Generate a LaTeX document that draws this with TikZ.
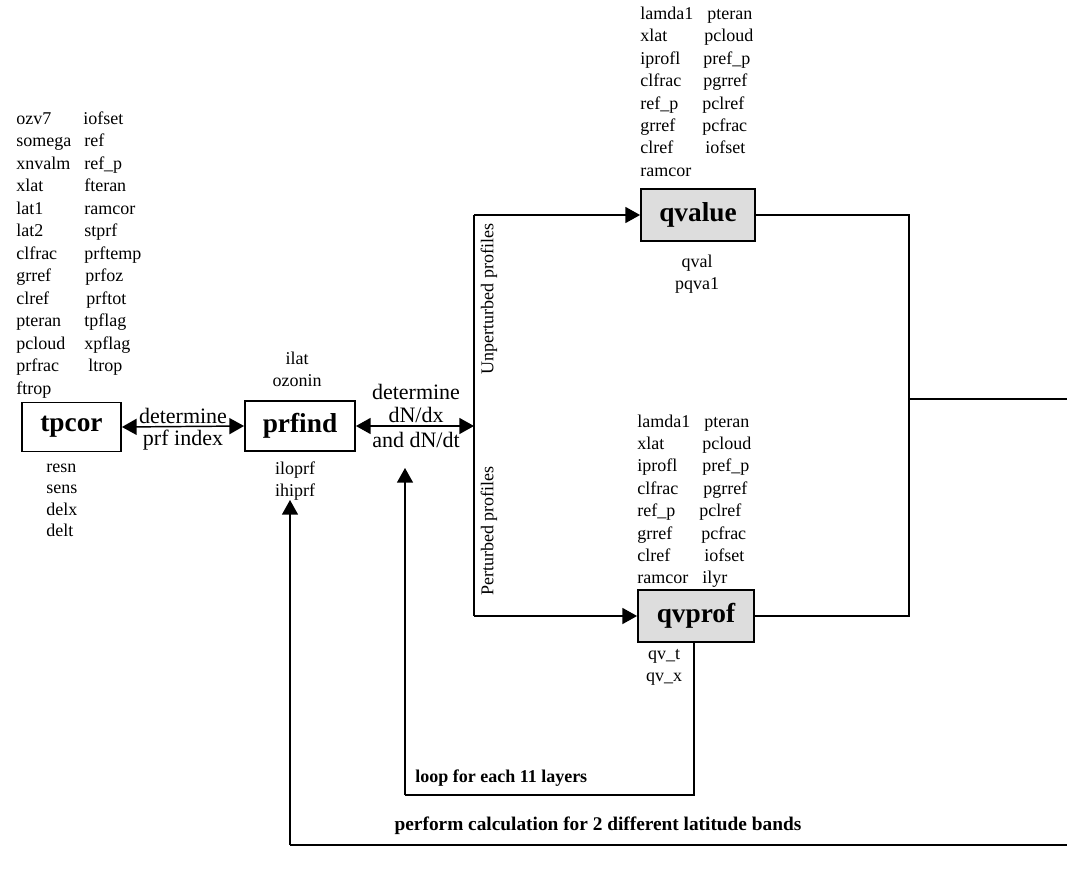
\documentclass[tikz,border=0pt]{standalone}
\usepackage{fontspec}
\setmainfont{Liberation Serif}
\usetikzlibrary{arrows.meta}
\newdimen\pxu \pxu=0.75pt
\definecolor{boxgray}{HTML}{DDDDDD}
\begin{document}
\begin{tikzpicture}[x=0.75pt,y=-0.75pt,
  lbl/.style={font=\fontsize{13.5}{16}\selectfont,inner sep=0pt,anchor=base west},
  lblc/.style={font=\fontsize{13.5}{16}\selectfont,inner sep=0pt,anchor=base},
  midtxt/.style={font=\fontsize{16.5}{19}\selectfont,inner sep=0pt},
  note/.style={font=\bfseries\fontsize{13.5}{16}\selectfont,inner sep=0pt},
  box/.style={draw,line width=1.4pt,font=\bfseries\fontsize{20.5}{24}\selectfont,inner sep=0pt},
  gbox/.style={box,fill=boxgray},
  conn/.style={line width=1.1pt},
  tip/.style={-{Triangle[length=11pt,width=12pt]}},
  dtip/.style={{Triangle[length=11pt,width=12pt]}-{Triangle[length=11pt,width=12pt]}}
]
\useasboundingbox (0,0) rectangle (1067,874);

% ---- boxes
\node[box,minimum width=99\pxu,minimum height=49\pxu] (tpcor) at (71.5,427) {tpcor};
\node[box,minimum width=110\pxu,minimum height=50\pxu] (prfind) at (300,426) {prfind};
\node[gbox,minimum width=114\pxu,minimum height=52\pxu] (qvalue) at (698,215) {qvalue};
\node[gbox,minimum width=116\pxu,minimum height=52\pxu] (qvprof) at (696,616) {qvprof};

% ---- tpcor inputs
\foreach \a/\b/\xb [count=\i] in {ozv7/iofset/83, somega/ref/84, xnvalm/ref\_p/84,
  xlat/fteran/84, lat1/ramcor/84, lat2/stprf/84, clfrac/prftemp/84, grref/prfoz/85,
  clref/prftot/86, pteran/tpflag/84, pcloud/xpflag/84, prfrac/ltrop/88}{
  \node[lbl] (ta\i) at (16,{124+22.5*(\i-1)}) {\a};
  \node[lbl] (tb\i) at (\xb,{124+22.5*(\i-1)}) {\b};
}
\node[lbl] (ta13) at (16,{124+22.5*12}) {ftrop};

% ---- tpcor outputs
\foreach \a [count=\i] in {resn,sens,delx,delt}{
  \node[lbl] (to\i) at (46,{472+21.5*(\i-1)}) {\a};
}

% ---- prfind in/out
\node[lblc] (pi1) at (297,364) {ilat};
\node[lblc] (pi2) at (297,386) {ozonin};
\node[lblc] (po1) at (295,474) {iloprf};
\node[lblc] (po2) at (295,496) {ihiprf};

% ---- qvalue inputs
\foreach \a/\b/\xb [count=\i] in {lamda1/pteran/707, xlat/pcloud/704, iprofl/pref\_p/703,
  clfrac/pgrref/703, ref\_p/pclref/702, grref/pcfrac/702, clref/iofset/705}{
  \node[lbl] (va\i) at (640,{19.5+22.4*(\i-1)}) {\a};
  \node[lbl] (vb\i) at (\xb,{19.5+22.4*(\i-1)}) {\b};
}
\node[lbl] (va8) at (640,{19.5+22.4*7}) {ramcor};
\node[lblc] (vo1) at (697,267) {qval};
\node[lblc] (vo2) at (697,289) {pqva1};

% ---- qvprof inputs
\foreach \a/\b/\xb [count=\i] in {lamda1/pteran/704, xlat/pcloud/702, iprofl/pref\_p/702,
  clfrac/pgrref/703, ref\_p/pclref/699, grref/pcfrac/701, clref/iofset/704, ramcor/ilyr/702}{
  \node[lbl] (pa\i) at (637,{427+22.4*(\i-1)}) {\a};
  \node[lbl] (pb\i) at (\xb,{427+22.4*(\i-1)}) {\b};
}
\node[lblc] (qo1) at (664,659) {qv\_t};
\node[lblc] (qo2) at (664,681) {qv\_x};

% ---- tpcor <-> prfind
\draw[conn,dtip] (tpcor.east) -- (prfind.west);
\node[midtxt] (d1) at (183,416) {determine};
\node[midtxt] (d2) at (183,440) {prf index};

% ---- prfind <-> split
\coordinate (split) at (474,426);
\draw[conn,dtip] (prfind.east) -- (split);
\node[midtxt] (e1) at (416,392) {determine};
\node[midtxt] (e2) at (416,415) {dN/dx};
\node[midtxt] (e3) at (416,440) {and dN/dt};

\coordinate (vt) at (474,215);
\coordinate (vb) at (474,616);
\draw[conn] (vt) -- (vb);
\draw[conn,tip] (vt) -- (qvalue.west);
\draw[conn,tip] (vb) -- (qvprof.west);
\node[font=\fontsize{13.5}{16}\selectfont,inner sep=0pt,rotate=90] (up) at (489,299) {Unperturbed profiles};
\node[font=\fontsize{13.5}{16}\selectfont,inner sep=0pt,rotate=90] (pp) at (489,531) {Perturbed profiles};

% ---- right side joins
\coordinate (rj) at (909,399);
\draw[conn] (qvalue.east) -- (909,215) -- (909,616) -- (qvprof.east);
\draw[conn] (rj) -- (1068,399) -- (1068,845) -- (290,845) coordinate (bl);
\draw[conn,tip] (bl) -- (290,500) coordinate (prtip);
\node[note,font=\bfseries\fontsize{14.5}{17}\selectfont] (lat) at (598,826) {perform calculation for 2 different latitude bands};

% ---- layer loop
\coordinate (lx) at (694,795);
\draw[conn] (qvprof.south -| lx) -- (lx) -- (405,795) coordinate (ll);
\draw[conn,tip] (ll) -- (405,468) coordinate (looptip);
\node[note,anchor=west] (loop) at (415,778) {loop for each 11 layers};
\end{tikzpicture}
\end{document}
